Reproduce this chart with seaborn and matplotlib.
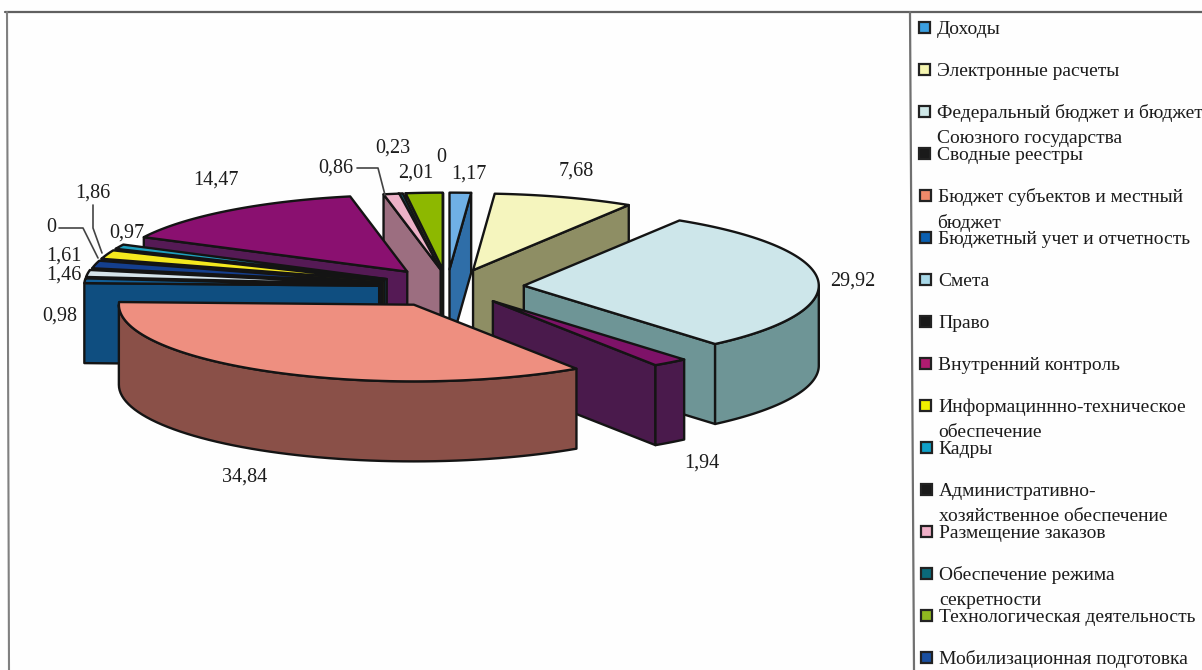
import numpy as np
import matplotlib
matplotlib.use('Agg')
import matplotlib.pyplot as plt
import seaborn as sns

# Данные
categories = ['Доходы', 'Электронные расчеты', 'Федеральный бюджет и бюджет\nСоюзного государства',
              'Сводные реестры', 'Бюджет субъектов и местный\nбюджет', 'Бюджетный учет и отчетность',
              'Смета', 'Право', 'Внутренний контроль', 'Информациннно-техническое\nобеспечение',
              'Кадры', 'Административно-\nхозяйственное обеспечение', 'Размещение заказов',
              'Обеспечение режима\nсекретности', 'Технологическая деятельность', 'Мобилизационная подготовка']
values = [1.17, 7.68, 29.92, 1.94, 34.84, 0.98, 1.46, 0, 1.61, 1.86, 0.97, 14.47, 0.86, 0.23, 2.01, 0]
value_labels = ['1,17', '7,68', '29,92', '1,94', '34,84', '0,98', '1,46', '0', '1,61', '1,86',
                '0,97', '14,47', '0,86', '0,23', '2,01', '0']

top_colors = ['#6FB0E6', '#F5F5BE', '#CDE6EA', '#7E1268', '#EE8F80', '#125F98', '#D5E3EA', '#222222',
              '#143F8E', '#F4E81E', '#1F9FBE', '#8A1070', '#EDB2C8', '#0F5A6A', '#8DB800', '#1F4FA0']
side_colors = ['#2F6EA8', '#8E8E64', '#6E9596', '#4A1A4C', '#8A5048', '#0F4E80', '#3D6B7E', '#222222',
               '#10306A', '#55550F', '#0F4F60', '#551A55', '#9C6E80', '#0A3A40', '#4F6A1F', '#1F3F80']
legend_colors = ['#3B9FE0', '#F5F5B0', '#CFE8E8', '#1A1A1A', '#EE8A6A', '#0A5FB0', '#A8D8E8', '#1A1A1A',
                 '#B01C70', '#F0F000', '#10A0C8', '#1A1A1A', '#F0B0C8', '#0A6A7A', '#90B820', '#1A4FA0']

sns.set_theme(style='white')
plt.rcParams['font.family'] = ['Liberation Serif', 'DejaVu Serif']
tops = sns.color_palette(top_colors)
sides = sns.color_palette(side_colors)
legend_pal = sns.color_palette(legend_colors)

fig = plt.figure(figsize=(12.02, 6.70), dpi=100, facecolor='#FEFEFE')
ax = fig.add_axes([0, 0, 1, 1])
ax.set_xlim(0, 1202)
ax.set_ylim(670, 0)
ax.axis('off')

# Параметры псевдо-3D круга
cx, cy = 452, 287
R, tilt, depth = 295, 0.26, 80
edge = '#141414'
# выдвижение секторов и мелкие сдвиги по x (скан чуть искажён)
explode = {2: 72, 4: 78, 5: 73, 6: 73, 8: 72, 9: 72, 10: 72, 11: 74}
nudge = {0: -5, 13: -3, 14: -5}


def project(theta, r, b, i):
    th, br = np.radians(theta), np.radians(b)
    e = explode.get(i, 68)
    x = cx + nudge.get(i, 0) + e * np.sin(br) + r * np.sin(th)
    y = cy - tilt * (e * np.cos(br) + r * np.cos(th))
    return x, y


def face(xs, ys, color):
    ax.fill(xs, ys, facecolor=color, edgecolor=edge, linewidth=1.7, joinstyle='round')


# Углы секторов
ends = np.cumsum(values) / np.sum(values) * 360
starts = ends - np.array(values) / np.sum(values) * 360
bisect = (starts + ends) / 2

# От дальних секторов к ближним
order = np.argsort(-np.cos(np.radians(bisect)))
for i in order:
    if values[i] == 0:
        continue
    s, e, b = starts[i], ends[i], bisect[i]
    ax_, ay_ = project(0, 0, b, i)
    # боковые грани
    if np.sin(np.radians(s)) < 0:
        rx, ry = project(s, R, b, i)
        face([ax_, rx, rx, ax_], [ay_, ry, ry + depth, ay_ + depth], sides[i])
    if np.sin(np.radians(e)) > 0:
        rx, ry = project(e, R, b, i)
        face([ax_, rx, rx, ax_], [ay_, ry, ry + depth, ay_ + depth], sides[i])
    a0, a1 = max(s, 90), min(e, 270)
    if a1 > a0:
        th = np.linspace(a0, a1, 60)
        xs, ys = project(th, R, b, i)
        face(np.r_[xs, xs[::-1]], np.r_[ys, ys[::-1] + depth], sides[i])
    # верхняя грань
    th = np.linspace(s, e, 80)
    xs, ys = project(th, R, b, i)
    face(np.r_[ax_, xs], np.r_[ay_, ys], tops[i])

# Подписи значений
label_pos = [(469, 174), (576, 171), (853, 281), (702, 463), (245, 477), (60, 316), (64, 275), (51, 227),
             (64, 256), (93, 193), (127, 233), (216, 180), (336, 168), (393, 148), (416, 173), (441, 158)]
for txt, (lx, ly) in zip(value_labels, label_pos):
    ax.text(lx, ly, txt, ha='center', va='center', fontsize=14.5, color='#1C1C1C')

# Выноски
ax.plot([59, 83, 98], [228, 228, 258], color='#444444', lw=1.2)
ax.plot([93, 93, 102], [205, 228, 253], color='#444444', lw=1.2)
ax.plot([357, 378, 385], [168, 168, 195], color='#444444', lw=1.2)

# Рамка
ax.plot([5, 1202], [12, 12], color='#606060', lw=1.6)
ax.plot([910, 914], [12, 670], color='#707070', lw=1.6)
ax.plot([7, 9], [12, 670], color='#808080', lw=1.5)

# Легенда: шаг одинаковый, перенесённые строки наезжают на следующую
for k, (name, col) in enumerate(zip(categories, legend_pal)):
    y = 27 + k * 42
    bx = 919 + k * 0.15
    ax.fill([bx, bx + 11, bx + 11, bx], [y - 5, y - 5, y + 6, y + 6], facecolor=col, edgecolor='#222222', linewidth=1.6)
    for j, line in enumerate(name.split('\n')):
        ax.text(bx + 18, y + 2 + j * 25.5, line, ha='left', va='center', fontsize=14, color='#1C1C1C')

fig.savefig('out.png', dpi=100, facecolor=fig.get_facecolor())
